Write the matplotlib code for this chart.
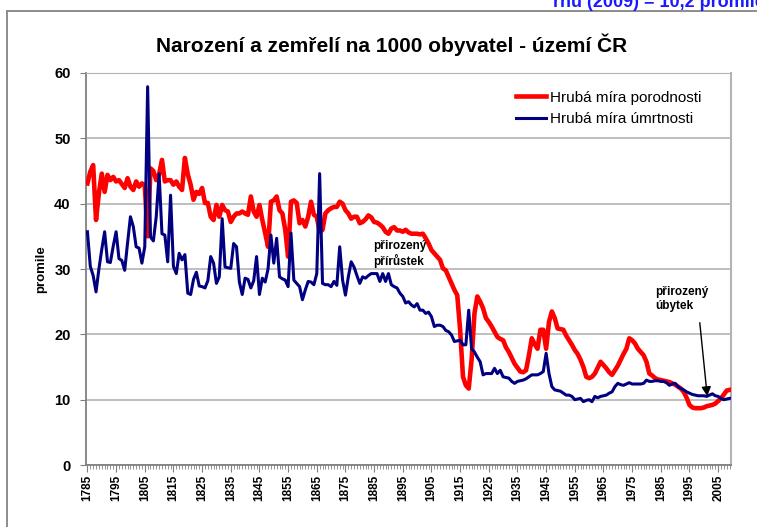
import matplotlib.pyplot as plt
import numpy as np
from matplotlib.lines import Line2D
from matplotlib.ticker import MultipleLocator

plt.rcParams['font.family'] = ['Liberation Sans', 'DejaVu Sans']

# roky 1785 - 2009
years = np.arange(1785, 2010)

# Hruba mira porodnosti (promile)
births = [
    43.1, 44.9, 45.9, 37.5, 41.6, 44.6, 41.8, 44.4, 43.6, 44.1,  # 1785
    43.4, 43.6, 43.0, 42.4, 43.9, 42.6, 42.1, 43.4, 42.6, 43.1,  # 1795
    42.8, 35.0, 45.4, 45.0, 43.6, 44.5, 46.7, 43.4, 43.6, 43.6,  # 1805
    42.9, 43.4, 42.6, 42.1, 47.0, 44.5, 42.9, 40.6, 41.8, 41.5,  # 1815
    42.4, 40.1, 40.1, 38.0, 37.5, 39.8, 38.0, 39.8, 39.0, 38.8,  # 1825
    37.2, 38.0, 38.5, 38.5, 38.8, 38.5, 38.3, 41.1, 38.8, 38.0,  # 1835
    39.8, 37.5, 35.5, 33.4, 40.3, 40.5, 41.1, 39.0, 38.5, 36.0,  # 1845
    31.9, 40.3, 40.5, 40.1, 37.0, 37.5, 36.5, 38.0, 40.3, 38.3,  # 1855
    38.0, 35.7, 36.0, 38.5, 39.0, 39.3, 39.5, 39.5, 40.3, 40.0,  # 1865
    39.0, 38.5, 37.7, 38.0, 38.0, 37.0, 37.2, 37.6, 38.2, 37.9,  # 1875
    37.2, 37.1, 36.8, 36.4, 35.7, 35.4, 36.2, 36.4, 35.9, 35.9,  # 1885
    35.7, 36.0, 35.6, 35.4, 35.4, 35.4, 35.3, 35.4, 34.7, 33.9,  # 1895
    32.9, 32.4, 31.9, 31.4, 30.1, 29.8, 28.8, 27.8, 26.8, 26.0,  # 1905
    20.7, 13.5, 12.2, 11.7, 16.1, 23.2, 25.8, 25.0, 24.0, 22.5,  # 1915
    21.9, 21.2, 20.4, 19.6, 19.3, 19.1, 18.0, 17.3, 16.4, 15.5,  # 1925
    14.9, 14.3, 14.2, 14.5, 16.8, 19.4, 18.5, 17.8, 20.7, 20.7,  # 1935
    17.8, 21.9, 23.5, 22.5, 20.9, 20.8, 20.7, 19.8, 19.1, 18.4,  # 1945
    17.6, 17.0, 16.1, 15.0, 13.5, 13.3, 13.5, 14.0, 14.9, 15.8,  # 1955
    15.3, 14.8, 14.2, 13.8, 14.5, 15.2, 16.1, 17.0, 17.8, 19.4,  # 1965
    19.1, 18.6, 17.8, 17.3, 16.8, 15.8, 14.0, 13.7, 13.3, 13.1,  # 1975
    13.0, 12.9, 12.8, 12.7, 12.5, 12.3, 12.0, 11.7, 11.2, 10.3,  # 1985
    9.2, 8.8, 8.7, 8.7, 8.7, 8.8, 9.0, 9.1, 9.2, 9.4,            # 1995
    9.8, 10.2, 10.8, 11.4, 11.5,                                 # 2005
]

# Hruba mira umrtnosti (promile)
deaths = [
    35.7, 30.4, 29.0, 26.5, 30.0, 33.0, 35.7, 31.1, 31.0, 33.5,  # 1785
    35.7, 31.6, 31.3, 29.8, 34.0, 38.0, 36.5, 33.4, 33.2, 30.9,  # 1795
    33.4, 57.9, 34.9, 34.3, 38.0, 44.6, 35.4, 35.2, 31.1, 41.3,  # 1805
    30.4, 29.3, 32.4, 31.4, 32.2, 26.3, 26.1, 28.4, 29.5, 27.4,  # 1815
    27.3, 27.1, 28.2, 31.9, 30.9, 27.8, 28.8, 37.7, 30.3, 30.2,  # 1825
    30.1, 33.9, 33.4, 28.0, 26.1, 28.6, 28.4, 27.1, 28.2, 31.9,  # 1835
    26.1, 28.6, 28.0, 30.0, 35.2, 30.9, 34.7, 28.8, 28.5, 28.3,  # 1845
    27.3, 35.5, 28.3, 27.8, 27.3, 25.3, 26.8, 28.1, 28.0, 27.6,  # 1855
    29.3, 44.6, 27.8, 27.6, 27.6, 27.3, 28.1, 27.5, 33.4, 28.3,  # 1865
    26.0, 28.8, 31.1, 30.3, 29.0, 27.8, 28.8, 28.6, 29.0, 29.3,  # 1875
    29.3, 29.3, 28.1, 29.3, 28.1, 29.3, 27.6, 27.3, 27.1, 26.3,  # 1885
    25.8, 24.8, 25.0, 24.5, 24.2, 24.7, 23.7, 23.7, 23.2, 23.4,  # 1895
    22.7, 21.2, 21.4, 21.4, 21.2, 20.6, 20.4, 19.9, 18.9, 19.0,  # 1905
    19.1, 18.4, 18.4, 23.7, 17.8, 17.3, 16.5, 15.8, 13.8, 14.0,  # 1915
    14.0, 14.0, 14.8, 14.0, 14.5, 13.5, 13.4, 13.3, 12.8, 12.5,  # 1925
    12.8, 12.9, 13.0, 13.2, 13.5, 13.8, 13.8, 13.8, 14.0, 14.3,  # 1935
    17.1, 14.0, 12.0, 11.5, 11.4, 11.3, 11.0, 10.7, 10.7, 10.5,  # 1945
    10.0, 10.1, 10.2, 9.7, 9.9, 10.0, 9.7, 10.5, 10.3, 10.5,     # 1955
    10.6, 10.7, 11.0, 11.2, 12.0, 12.5, 12.3, 12.2, 12.4, 12.6,  # 1965
    12.4, 12.4, 12.4, 12.4, 12.5, 13.0, 12.8, 12.8, 12.9, 12.9,  # 1975
    12.8, 12.8, 12.6, 12.2, 12.4, 12.5, 12.0, 11.7, 11.5, 11.2,  # 1985
    11.0, 10.8, 10.7, 10.6, 10.6, 10.6, 10.5, 10.7, 10.9, 10.6,  # 1995
    10.5, 10.2, 10.0, 10.1, 10.2,                                # 2005
]

tick_years = np.arange(1785, 2010, 10)

fig = plt.figure(figsize=(7.57, 5.27), dpi=100)
ax = fig.add_axes([0.1136, 0.1176, 0.8521, 0.7439])

ax.plot(years, births, color='#ff0000', lw=3.3, label='Hrubá míra porodnosti', zorder=3)
ax.plot(years, deaths, color='#000080', lw=2.2, label='Hrubá míra úmrtnosti', zorder=4)

ax.set_xlim(1784.5, 2009.5)
ax.set_ylim(0, 60)
ax.set_yticks(np.arange(0, 61, 10))
ax.set_xticks(tick_years)
ax.xaxis.set_minor_locator(MultipleLocator(1))
ax.tick_params(axis='x', which='major', labelrotation=90, length=5, color='#808080', pad=2)
ax.tick_params(axis='x', which='minor', length=3, color='#808080')
ax.tick_params(axis='y', length=4, color='#808080', pad=7)
for lab in ax.get_xticklabels():
    lab.set_fontweight('bold')
    lab.set_fontsize(8.5)
for lab in ax.get_yticklabels():
    lab.set_fontweight('bold')
    lab.set_fontsize(10.5)

ax.grid(axis='y', color='#b4b4b4', lw=1.2)
ax.set_axisbelow(True)
ax.spines['left'].set_color('#808080')
ax.spines['bottom'].set_color('#808080')
ax.spines['left'].set_linewidth(1.3)
ax.spines['bottom'].set_linewidth(1.3)
ax.spines['top'].set_color('#b4b4b4')
ax.spines['right'].set_color('#b4b4b4')
ax.spines['right'].set_linewidth(1.5)

ax.set_ylabel('promile', fontsize=9.5, fontweight='bold', labelpad=5)

fig.text(0.517, 0.915, 'Narození a zemřelí na 1000 obyvatel - území ČR',
         ha='center', va='center', fontsize=15, fontweight='bold')

ax.legend(loc='upper left', bbox_to_anchor=(0.645, 0.99), frameon=False,
          fontsize=11, handlelength=2.0, handletextpad=0.25, labelspacing=0.5)

ax.text(1884.8, 34.4, 'přirozený\npřírůstek', fontsize=8.5, fontweight='bold',
        va='top', ha='left', linespacing=1.15, zorder=5)
ax.text(1983.1, 27.4, 'přirozený\núbytek', fontsize=8.5, fontweight='bold',
        va='top', ha='left', linespacing=1.25, zorder=5)
ax.annotate('', xy=(2001.3, 10.1), xytext=(1998.5, 22.2),
            arrowprops=dict(arrowstyle='-|>', color='black', lw=1.0, mutation_scale=14),
            zorder=6)

# ramecek grafu
fig.add_artist(Line2D([0.0092, 1.0], [0.979, 0.979], color='#8c8c8c', lw=1.4))
fig.add_artist(Line2D([0.0092, 0.0092], [0.0, 0.979], color='#8c8c8c', lw=1.4))

# orezany text nahore (v originalu useknuty okrajem)
fig.text(0.731, 0.986, 'rnu (2009) = 10,2 promile', color='#1a1aff', fontsize=13,
         fontweight='bold', ha='left', va='baseline')

fig.savefig('out.png', dpi=100)
